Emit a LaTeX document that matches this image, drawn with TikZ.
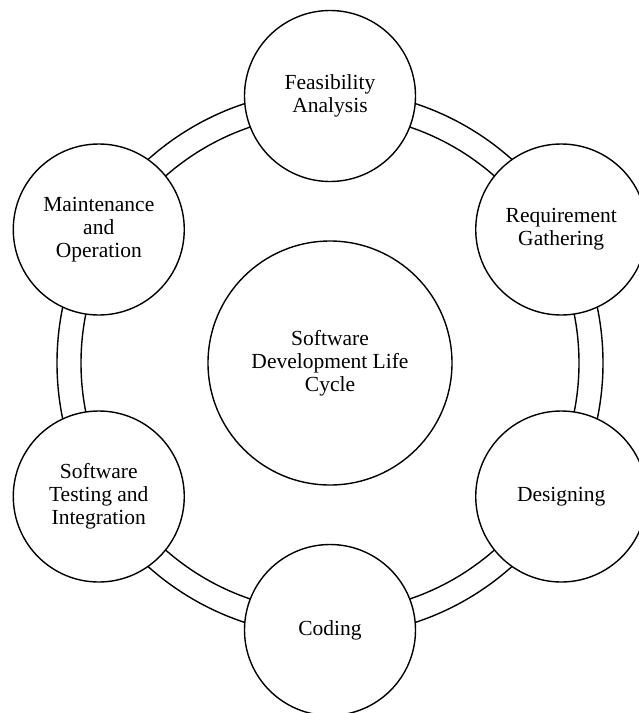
\documentclass[tikz,border=0pt]{standalone}
\usepackage{fontspec}
\setmainfont{Liberation Serif}
\usetikzlibrary{calc}

\newcommand*\stageradius{267pt}
\tikzset{stage/.style={
    draw,
    line width=1.4pt,
    circle,
    fill=white,
    minimum size=#1,
    inner sep=0pt,
    align=center,
    font=\fontsize{21.5}{23}\selectfont
}}

\begin{document}
\begin{tikzpicture}[x=1pt,y=-1pt]
    \useasboundingbox (0,0) rectangle (638,713);
    \coordinate (hub) at (330,363);

    % First draw the double ring, the stages sit on top of it.
    \draw[line width=1.4pt] (hub) circle[radius=273pt];
    \draw[line width=1.4pt] (hub) circle[radius=249pt];

    % The cycle itself in the middle.
    \node[stage=244pt] (sdlc) at (hub) {Software\\Development Life\\Cycle};

    % Now the stages, going clockwise from the top.
    \foreach \name/\angle/\label in {feasibility/90/{Feasibility\\Analysis},
            requirement/30/{Requirement\\Gathering},
            designing/-30/{Designing},
            coding/-90/{Coding},
            testing/-150/{Software\\Testing and\\Integration},
            maintenance/150/{Maintenance\\and\\Operation}}
        \node[stage=171pt] (\name) at ($(hub)+(\angle:\stageradius)$) {\label};

\end{tikzpicture}
\end{document}
